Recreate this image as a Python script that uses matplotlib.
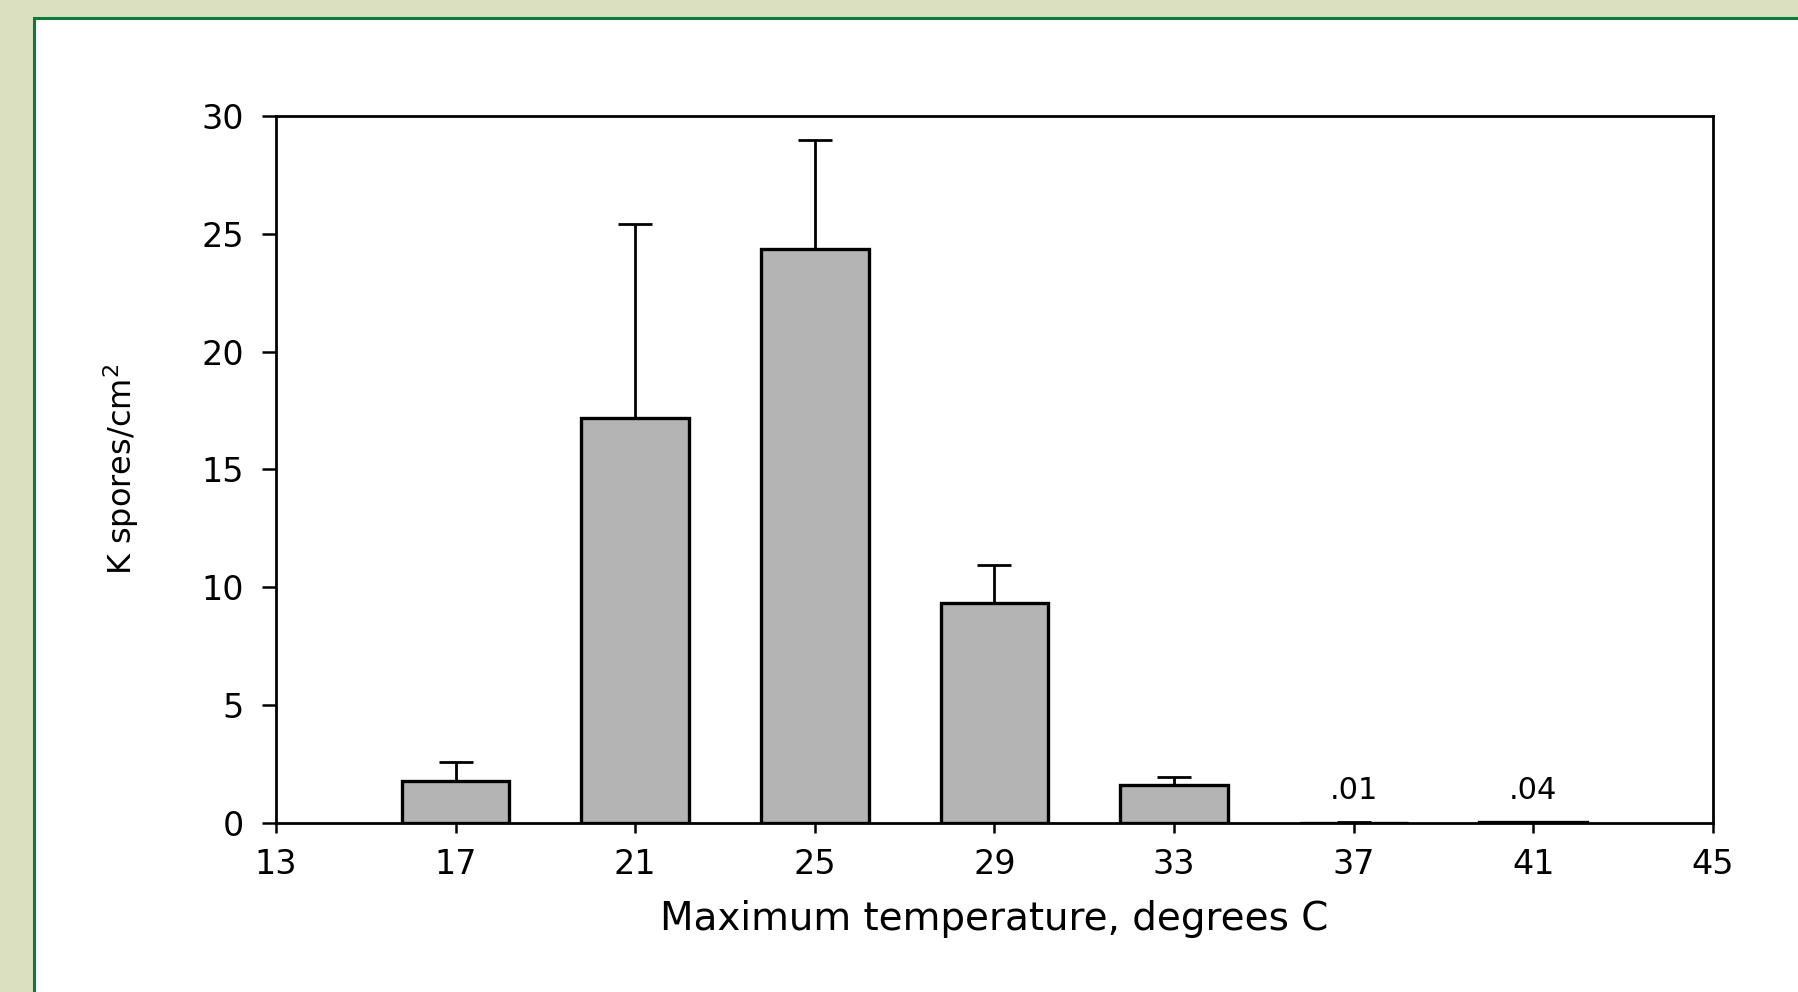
import matplotlib
matplotlib.use('Agg')
import matplotlib.pyplot as plt
from matplotlib.patches import Rectangle

# mean spore counts (thousands per cm2) by max temperature
temps = [17, 21, 25, 29, 33, 37, 41]
spores = [1.8, 17.2, 24.35, 9.35, 1.6, 0.01, 0.04]
upper_err = [0.8, 8.2, 4.65, 1.6, 0.35, 0.01, 0.02]
small_labels = ['', '', '', '', '', '.01', '.04']
x_ticks = [13, 17, 21, 25, 29, 33, 37, 41, 45]
y_ticks = [0, 5, 10, 15, 20, 25, 30]


def main():
    plt.rcParams['font.family'] = ['DejaVu Sans']
    fig = plt.figure(figsize=(17.98, 9.92), dpi=100, facecolor='#dae0c0')

    # white slide panel with green border, kept behind the axes
    panel = Rectangle((34 / 1798, -0.1), 1.2, (992 - 18) / 992 + 0.1,
                      transform=fig.transFigure, facecolor='white',
                      edgecolor='#0b7a3b', linewidth=2.2, zorder=-10)
    fig.add_artist(panel)

    ax = fig.add_axes([0.1535, 0.1704, 0.7992, 0.7127])
    ax.set_facecolor('white')

    ax.bar(temps, spores, width=2.4, color='#b4b4b4', edgecolor='black',
           linewidth=2.4, zorder=2)
    lower = [0] * len(upper_err)
    ax.errorbar(temps, spores, yerr=[lower, upper_err], fmt='none',
                ecolor='black', elinewidth=2.0, capsize=12, capthick=2.0,
                zorder=3)

    for t, lab in zip(temps, small_labels):
        if lab:
            ax.text(t, 1.0, lab, ha='center', va='baseline', fontsize=22)

    ax.set_xlim(13, 45)
    ax.set_ylim(0, 30)
    ax.set_xticks(x_ticks)
    ax.set_yticks(y_ticks)
    for s in ax.spines.values():
        s.set_linewidth(2.0)
    ax.tick_params(axis='x', direction='out', length=7, width=1.8,
                   pad=11, labelsize=24)
    ax.tick_params(axis='y', direction='out', length=10, width=1.8,
                   pad=13, labelsize=24)

    ax.set_xlabel('Maximum temperature, degrees C', fontsize=28, labelpad=14)
    ax.set_ylabel('K spores/cm$^2$', fontsize=23)
    ax.yaxis.set_label_coords(-0.094, 0.5)

    fig.savefig('out.png', dpi=100, facecolor=fig.get_facecolor())


if __name__ == '__main__':
    main()
